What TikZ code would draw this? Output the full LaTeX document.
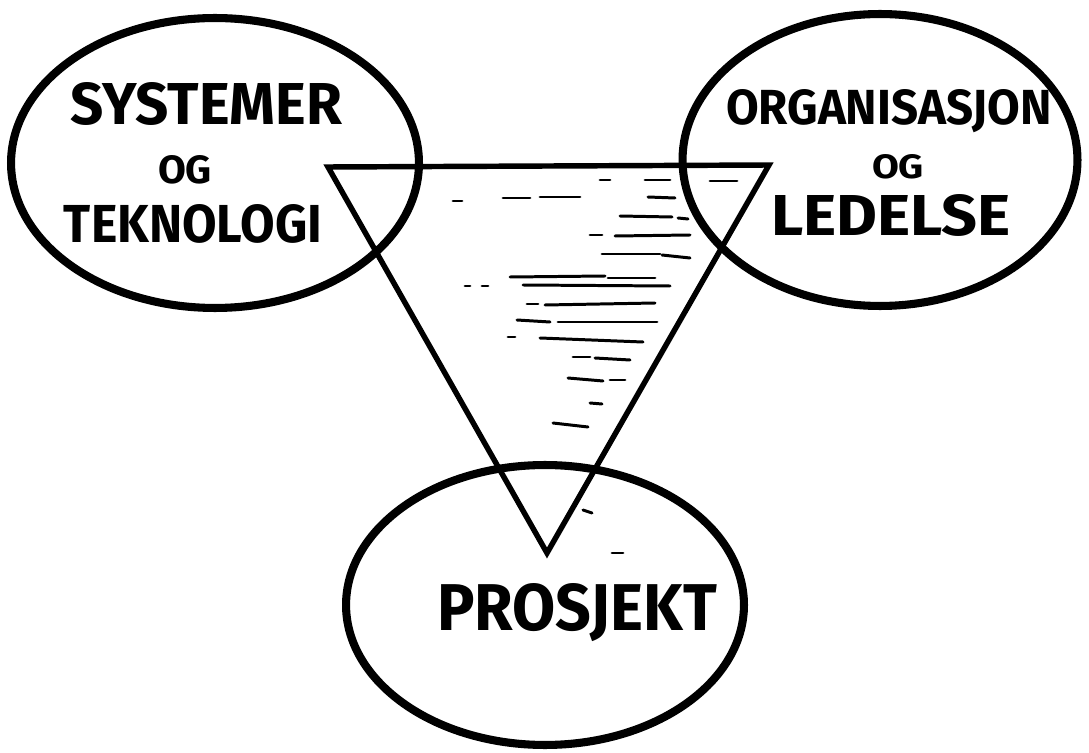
\documentclass[tikz,border=0pt]{standalone}
\usepackage{fontspec}
\usepackage{graphicx}
\setmainfont{Fira Sans}
\usetikzlibrary{shapes.geometric}
\newcommand{\fitlbl}[3]{\resizebox{#1cm}{#2cm}{\bfseries #3}}
\tikzset{
  ell/.style={ellipse, draw=black, line width=4.6pt, inner sep=0pt},
  lbl/.style={inner sep=0pt, text=black},
  tri/.style={draw=black, line width=3.1pt, line cap=round, line join=miter},
  hatch/.style={draw=black, line width=1.7pt, line cap=round},
}
\begin{document}
\begin{tikzpicture}[x=0.02cm, y=-0.02cm]
\useasboundingbox (0,0) rectangle (1089,753);
\fill[white] (0,0) rectangle (1089,753);
% triangle corners
\coordinate (tl) at (328,167);
\coordinate (tr) at (769,165);
\coordinate (ap) at (547,553);
\draw[tri] (tl) -- (tr) -- (ap) -- cycle;
% hatching
\draw[hatch] (710,181) -- (737,181);
\draw[hatch] (600,180) -- (610,180);
\draw[hatch] (645,180) -- (670,180);
\draw[hatch] (453,201) -- (462,201);
\draw[hatch] (503,198) -- (530,198);
\draw[hatch] (540,197) -- (580,197);
\draw[hatch] (648,197) -- (675,198);
\draw[hatch] (620,216) -- (672,217);
\draw[hatch] (678,218) -- (688,219);
\draw[hatch] (590,235) -- (602,235);
\draw[hatch] (615,236) -- (690,235);
\draw[hatch] (602,254) -- (660,254);
\draw[hatch] (662,255) -- (690,258);
\draw[hatch] (510,277) -- (605,276);
\draw[hatch] (608,278) -- (655,278);
\draw[hatch] (465,286) -- (470,286);
\draw[hatch] (482,286) -- (488,286);
\draw[hatch] (523,285) -- (670,286);
\draw[hatch] (527,304) -- (538,304);
\draw[hatch] (545,305) -- (655,303);
\draw[hatch] (517,320) -- (550,322);
\draw[hatch] (558,322) -- (657,322);
\draw[hatch] (508,337) -- (515,337);
\draw[hatch] (540,338) -- (643,342);
\draw[hatch] (573,357) -- (590,357);
\draw[hatch] (595,358) -- (630,360);
\draw[hatch] (568,378) -- (603,381);
\draw[hatch] (610,380) -- (625,380);
\draw[hatch] (590,403) -- (602,404);
\draw[hatch] (553,423) -- (588,427);
\draw[hatch] (612,553) -- (623,553);
\draw[hatch] (583,510) -- (592,513);
% ellipses
\node[ell, minimum width=8.16cm, minimum height=5.8cm] (sys) at (215,163) {};
\node[ell, minimum width=7.9cm, minimum height=5.84cm] (org) at (880,160) {};
\node[ell, minimum width=7.96cm, minimum height=5.6cm] (pro) at (545,605) {};
% labels
\node[lbl] (s1) at (206,104) {\fitlbl{5.44}{0.84}{SYSTEMER}};
\node[lbl] (s2) at (185,170) {\fitlbl{1.08}{0.56}{OG}};
\node[lbl] (s3) at (193,224) {\fitlbl{5.16}{0.76}{TEKNOLOGI}};
\node[lbl] (o1) at (889,111) {\fitlbl{6.52}{0.70}{ORGANISASJON}};
\node[lbl] (o2) at (898,167) {\fitlbl{1.04}{0.48}{OG}};
\node[lbl] (o3) at (891,215) {\fitlbl{4.8}{0.82}{LEDELSE}};
\node[lbl] (p1) at (577,613) {\fitlbl{5.6}{0.94}{PROSJEKT}};
\end{tikzpicture}
\end{document}
